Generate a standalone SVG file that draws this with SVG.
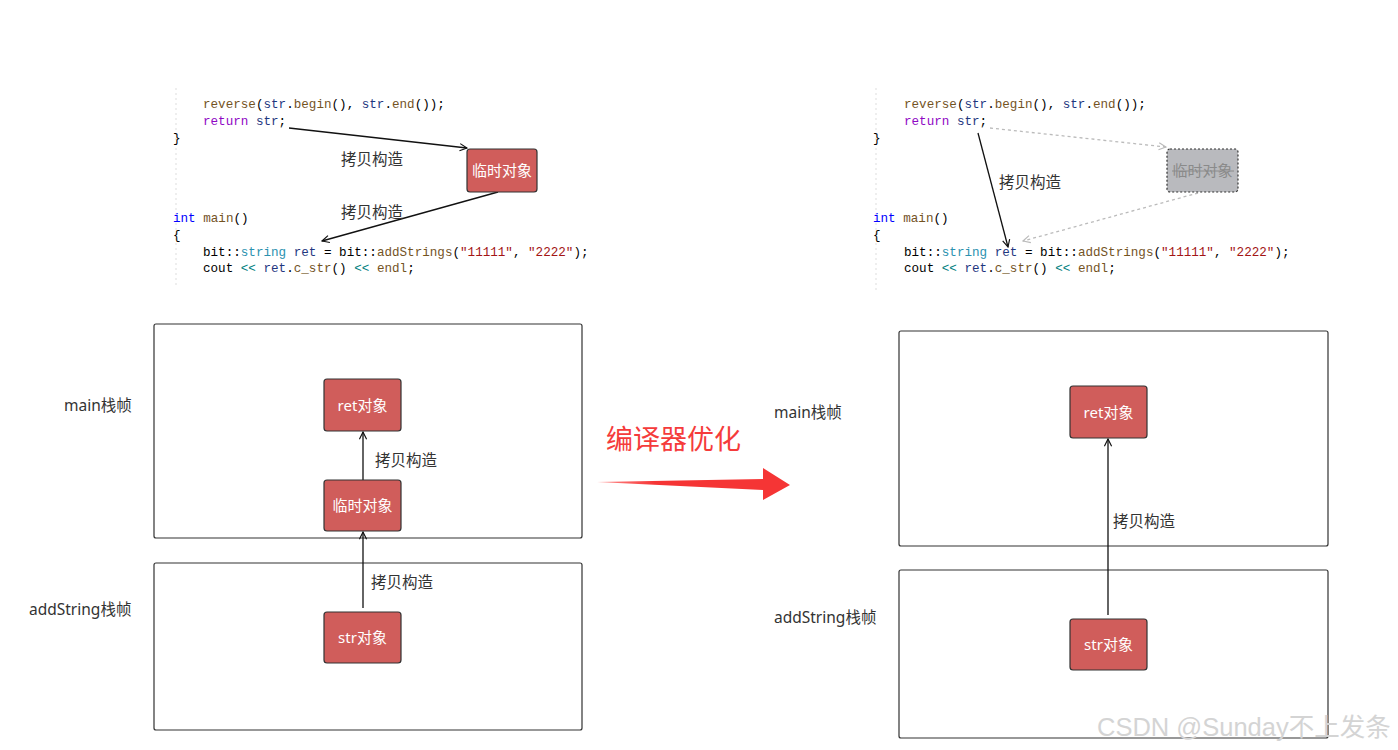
<svg xmlns="http://www.w3.org/2000/svg" width="1398" height="750" viewBox="0 0 1398 750">
<defs>
<style>
.code{font-family:"Liberation Mono","DejaVu Sans Mono",monospace;font-size:12.6px;fill:#000;white-space:pre}
.kw{fill:#8f08c4}.ty{fill:#0000ff}.fn{fill:#74531f}.var{fill:#1f377f}.cls{fill:#2b91af}.st{fill:#a31515}.op{fill:#008080}
.lbl{font-family:"Noto Sans","Noto Sans CJK SC",sans-serif;font-size:15.5px;fill:#333}
.box{fill:#d05d5b;stroke:#333;stroke-width:1.2}
.boxt{font-family:"Noto Sans","Noto Sans CJK SC",sans-serif;font-size:15px;fill:#fff;text-anchor:middle}
.frame{fill:#fff;stroke:#333;stroke-width:1.2}
.conn{stroke:#111;stroke-width:1.3;fill:none}
.dconn{stroke:#bbb;stroke-width:1.3;fill:none;stroke-dasharray:3 3}
.gutter{stroke:#ddd;stroke-width:1;stroke-dasharray:2 3}
</style>
<marker id="ah" viewBox="0 0 10 10" refX="9" refY="5" markerWidth="9" markerHeight="9" orient="auto" markerUnits="userSpaceOnUse"><path d="M1,1 L9,5 L1,9" fill="none" stroke="#111" stroke-width="1.3"/></marker>
<marker id="ahg" viewBox="0 0 10 10" refX="9" refY="5" markerWidth="9" markerHeight="9" orient="auto" markerUnits="userSpaceOnUse"><path d="M1,1 L9,5 L1,9" fill="none" stroke="#bbb" stroke-width="1.3"/></marker>
<linearGradient id="rg" x1="0" y1="0" x2="1" y2="0"><stop offset="0" stop-color="#ff4444" stop-opacity="0.6"/><stop offset="0.3" stop-color="#f53535"/><stop offset="1" stop-color="#f53535"/></linearGradient>
</defs>
<rect width="1398" height="750" fill="#fff"/>

<g id="code-left">
<line class="gutter" x1="176" y1="88" x2="176" y2="285"/>
<text class="code" x="203" y="108"><tspan class="fn">reverse</tspan>(<tspan class="var">str</tspan>.<tspan class="fn">begin</tspan>(), <tspan class="var">str</tspan>.<tspan class="fn">end</tspan>());</text>
<text class="code" x="203" y="125"><tspan class="kw">return</tspan> <tspan class="var">str</tspan>;</text>
<text class="code" x="173" y="142">}</text>
<text class="code" x="173" y="222"><tspan class="ty">int</tspan> <tspan class="fn">main</tspan>()</text>
<text class="code" x="173" y="239">{</text>
<text class="code" x="203" y="256">bit::<tspan class="cls">string</tspan> <tspan class="var">ret</tspan> = bit::<tspan class="fn">addStrings</tspan>(<tspan class="st">"11111"</tspan>, <tspan class="st">"2222"</tspan>);</text>
<text class="code" x="203" y="272">cout <tspan class="op">&lt;&lt;</tspan> <tspan class="var">ret</tspan>.<tspan class="fn">c_str</tspan>() <tspan class="op">&lt;&lt;</tspan> <tspan class="fn">endl</tspan>;</text>
</g>

<g id="code-right">
<line class="gutter" x1="876" y1="88" x2="876" y2="292"/>
<text class="code" x="904" y="108"><tspan class="fn">reverse</tspan>(<tspan class="var">str</tspan>.<tspan class="fn">begin</tspan>(), <tspan class="var">str</tspan>.<tspan class="fn">end</tspan>());</text>
<text class="code" x="904" y="125"><tspan class="kw">return</tspan> <tspan class="var">str</tspan>;</text>
<text class="code" x="873" y="142">}</text>
<text class="code" x="873" y="222"><tspan class="ty">int</tspan> <tspan class="fn">main</tspan>()</text>
<text class="code" x="873" y="239">{</text>
<text class="code" x="904" y="256">bit::<tspan class="cls">string</tspan> <tspan class="var">ret</tspan> = bit::<tspan class="fn">addStrings</tspan>(<tspan class="st">"11111"</tspan>, <tspan class="st">"2222"</tspan>);</text>
<text class="code" x="904" y="272">cout <tspan class="op">&lt;&lt;</tspan> <tspan class="var">ret</tspan>.<tspan class="fn">c_str</tspan>() <tspan class="op">&lt;&lt;</tspan> <tspan class="fn">endl</tspan>;</text>
</g>

<g id="frame-main-left"><rect class="frame" x="154" y="324" width="428" height="214" rx="2"/><text class="lbl" x="64" y="411">main栈帧</text></g>
<g id="frame-add-left"><rect class="frame" x="154" y="563" width="428" height="167" rx="2"/><text class="lbl" x="29" y="615">addString栈帧</text></g>
<g id="frame-main-right"><rect class="frame" x="899" y="331" width="429" height="215" rx="2"/><text class="lbl" x="774" y="418">main栈帧</text></g>
<g id="frame-add-right"><rect class="frame" x="899" y="570" width="429" height="168" rx="2"/><text class="lbl" x="774" y="623">addString栈帧</text></g>

<g id="connectors">
<line class="conn" x1="289" y1="128" x2="467" y2="148" marker-end="url(#ah)"/>
<line class="conn" x1="498" y1="192" x2="322" y2="241" marker-end="url(#ah)"/>
<line class="dconn" x1="990" y1="128" x2="1166" y2="147" marker-end="url(#ahg)"/>
<line class="dconn" x1="1198" y1="193" x2="1023" y2="241" marker-end="url(#ahg)"/>
<line class="conn" x1="978" y1="133" x2="1008" y2="247" marker-end="url(#ah)"/>
<line class="conn" x1="363" y1="480" x2="363" y2="432" marker-end="url(#ah)"/>
<line class="conn" x1="363" y1="608" x2="363" y2="532" marker-end="url(#ah)"/>
<line class="conn" x1="1108" y1="615" x2="1108" y2="439" marker-end="url(#ah)"/>
<text class="lbl" x="341" y="165">拷贝构造</text>
<text class="lbl" x="341" y="218">拷贝构造</text>
<text class="lbl" x="999" y="188">拷贝构造</text>
<text class="lbl" x="375" y="466">拷贝构造</text>
<text class="lbl" x="371" y="588">拷贝构造</text>
<text class="lbl" x="1113" y="527">拷贝构造</text>
</g>

<g id="temp-left"><rect class="box" x="467" y="149" width="70" height="43" rx="3"/><text class="boxt" x="502" y="176">临时对象</text></g>
<g id="temp-right"><rect x="1167" y="149" width="71" height="43" rx="3" fill="#b9babe" stroke="#333" stroke-width="1.2" stroke-dasharray="2 2"/><text class="boxt" x="1202.5" y="176" style="fill:#8a8a8a">临时对象</text><line x1="1172" y1="171" x2="1234" y2="171" stroke="#8a8a8a" stroke-width="1"/></g>
<g id="ret-left"><rect class="box" x="324" y="379" width="77" height="52" rx="3"/><text class="boxt" x="362.5" y="411">ret对象</text></g>
<g id="temp-mid-left"><rect class="box" x="324" y="480" width="77" height="51" rx="3"/><text class="boxt" x="362.5" y="511">临时对象</text></g>
<g id="str-left"><rect class="box" x="324" y="612" width="77" height="51" rx="3"/><text class="boxt" x="362.5" y="643">str对象</text></g>
<g id="ret-right"><rect class="box" x="1070" y="386" width="77" height="52" rx="3"/><text class="boxt" x="1108.5" y="418">ret对象</text></g>
<g id="str-right"><rect class="box" x="1070" y="619" width="77" height="51" rx="3"/><text class="boxt" x="1108.5" y="650">str对象</text></g>

<g id="optimize">
<text x="606" y="449" font-family="Noto Sans CJK SC,sans-serif" font-size="27" fill="#f53b3b">编译器优化</text>
<path d="M597,482 L763,479 L763,468 L790,485 L763,500 L763,490 Z" fill="url(#rg)"/>
</g>

<text x="1097" y="736" font-family="Liberation Sans,Noto Sans CJK SC,sans-serif" font-size="25.5" fill="#d4d4d4">CSDN @Sunday不上发条</text>
</svg>
